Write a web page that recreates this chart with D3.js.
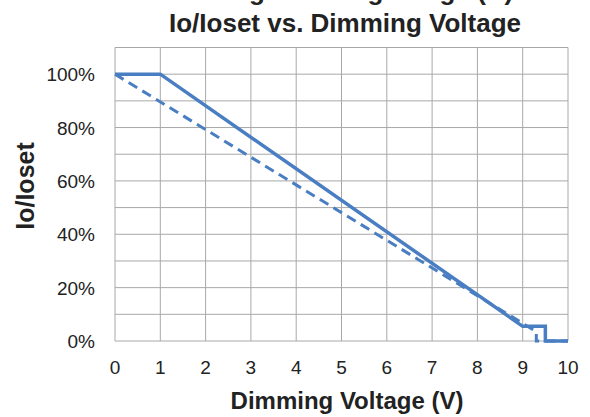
<!DOCTYPE html>
<html>
<head>
<meta charset="utf-8">
<script src="https://cdn.jsdelivr.net/npm/d3@7"></script>
<style>
  body { margin: 0; background: #fff; }
  text { font-family: "Liberation Sans", Arial, sans-serif; }
</style>
</head>
<body>
<div id="vis"></div>
<script>
// data
const xTicks = [0, 1, 2, 3, 4, 5, 6, 7, 8, 9, 10];
const yTicks = [0, 20, 40, 60, 80, 100];
const solidV = [0, 1, 9, 9.5, 9.5, 10];
const solidI = [100, 100, 5.5, 5.5, 0, 0];
const dashV = [0, 8, 9.3, 9.3, 10];
const dashI = [100, 17, 3.5, 0, 0];

const svg = d3.select("#vis").append("svg");
svg.attr("width", 590).attr("height", 417);

const x = d3.scaleLinear().domain([0, 10]).range([115, 568]);
const y = d3.scaleLinear().domain([0, 110]).range([341, 47.5]);

// grid
svg.selectAll("vgrid")
    .data(d3.range(0, 11))
    .join("line")
    .attr("x1", d => x(d)).attr("x2", d => x(d))
    .attr("y1", y(0)).attr("y2", y(110))
    .attr("stroke", "#a8a8a8").attr("stroke-width", 1);

svg.selectAll("hgrid")
    .data(d3.range(0, 111, 10))
    .join("line")
    .attr("x1", x(0)).attr("x2", x(10))
    .attr("y1", d => y(d)).attr("y2", d => y(d))
    .attr("stroke", "#a8a8a8").attr("stroke-width", 1);

// tick labels
svg.selectAll("ylab")
    .data(yTicks)
    .join("text")
    .attr("x", 95)
    .attr("y", d => y(d) + 7)
    .attr("text-anchor", "end")
    .style("font-size", "19px")
    .attr("fill", "#222")
    .text(d => d + "%");

svg.selectAll("xlab")
    .data(xTicks)
    .join("text")
    .attr("x", d => x(d))
    .attr("y", 374)
    .attr("text-anchor", "middle")
    .style("font-size", "19px")
    .attr("fill", "#222")
    .text(d => d);

// lines
const toPts = (vs, is) => vs.map((v, i) => [v, is[i]]);
const line = d3.line().x(d => x(d[0])).y(d => y(d[1]));

svg.append("path")
    .attr("d", line(toPts(dashV, dashI)))
    .attr("fill", "none")
    .attr("stroke", "#4a7ec2")
    .attr("stroke-width", 3)
    .attr("stroke-dasharray", "10,6");

svg.append("path")
    .attr("d", line(toPts(solidV, solidI)))
    .attr("fill", "none")
    .attr("stroke", "#4a7ec2")
    .attr("stroke-width", 3.5)
    .attr("stroke-linejoin", "miter");

// titles
svg.append("text")
    .attr("x", 345).attr("y", 0)
    .attr("text-anchor", "middle")
    .style("font-size", "26px").style("font-weight", "bold")
    .attr("fill", "#222")
    .text("Analog Dimming Range (A)");

svg.append("text")
    .attr("x", 345).attr("y", 32)
    .attr("text-anchor", "middle")
    .style("font-size", "26px").style("font-weight", "bold")
    .attr("fill", "#222")
    .text("Io/Ioset vs. Dimming Voltage");

svg.append("text")
    .attr("x", 347).attr("y", 409)
    .attr("text-anchor", "middle")
    .style("font-size", "24px").style("font-weight", "bold")
    .attr("fill", "#222")
    .text("Dimming Voltage (V)");

svg.append("text")
    .attr("transform", "translate(34,186) rotate(-90)")
    .attr("text-anchor", "middle")
    .style("font-size", "25px").style("font-weight", "bold")
    .attr("fill", "#222")
    .text("Io/Ioset");
</script>
</body>
</html>
